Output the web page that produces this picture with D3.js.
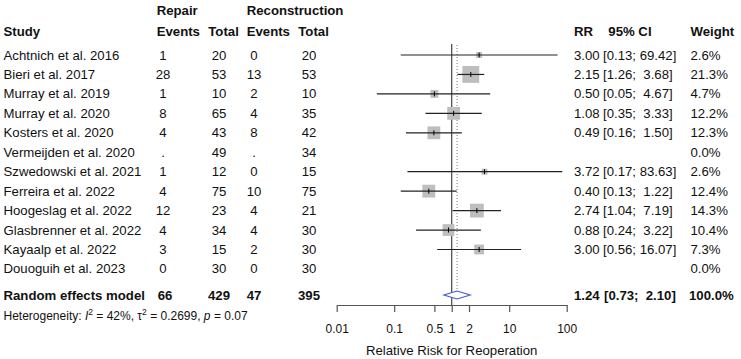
<!DOCTYPE html>
<html>
<head>
<meta charset="utf-8">
<script src="https://cdn.jsdelivr.net/npm/d3@7"></script>
<style>
  body { margin: 0; background: #fff; }
  svg { font-family: "Liberation Sans", Arial, sans-serif; }
  text { white-space: pre; }
</style>
</head>
<body>
<svg id="chart" width="741" height="359"></svg>
<script>
// forest plot: repair vs reconstruction, relative risk for reoperation

const studies = ["Achtnich et al. 2016", "Bieri et al. 2017", "Murray et al. 2019", "Murray et al. 2020",
  "Kosters et al. 2020", "Vermeijden et al. 2020", "Szwedowski et al. 2021", "Ferreira et al. 2022",
  "Hoogeslag et al. 2022", "Glasbrenner et al. 2022", "Kayaalp et al. 2022", "Douoguih et al. 2023"];
const repairEvents = ["1", "28", "1", "8", "4", ".", "1", "4", "12", "4", "3", "0"];
const repairTotal = [20, 53, 10, 65, 43, 49, 12, 75, 23, 34, 15, 30];
const reconEvents = ["0", "13", "2", "4", "8", ".", "0", "10", "4", "4", "2", "0"];
const reconTotal = [20, 53, 10, 35, 42, 34, 15, 75, 21, 30, 30, 30];
const rr = [3.00, 2.15, 0.50, 1.08, 0.49, null, 3.72, 0.40, 2.74, 0.88, 3.00, null];
const ciLow = [0.13, 1.26, 0.05, 0.35, 0.16, null, 0.17, 0.13, 1.04, 0.24, 0.56, null];
const ciHigh = [69.42, 3.68, 4.67, 3.33, 1.50, null, 83.63, 1.22, 7.19, 3.22, 16.07, null];
const weight = [2.6, 21.3, 4.7, 12.2, 12.3, 0.0, 2.6, 12.4, 14.3, 10.4, 7.3, 0.0];

// pooled result
const pooled = { label: "Random effects model", repEv: 66, repTot: 429, recEv: 47, recTot: 395,
  rr: 1.24, lo: 0.73, hi: 2.10, w: 100.0 };
const axisTicks = [0.01, 0.1, 0.5, 1, 2, 10, 100];

const fs = 13.2;
const rowY = i => 55 + 19.45 * i;
const pooledY = 295.5;

const cols = {
  study: 3.5,
  repEv: 163,
  repTot: 219,
  recEv: 254,
  recTot: 309,
  rr: 574,
  ci: 603,
  w: 690.5
};

const svg = d3.select("#chart");

const x = d3.scaleLog().domain([0.01, 100]).range([336.7, 566.7]);

function txt(xp, yp, s, opts = {}) {
  return svg.append("text")
    .attr("x", xp)
    .attr("y", yp)
    .attr("font-size", opts.size || fs)
    .attr("font-weight", opts.bold ? "bold" : null)
    .attr("text-anchor", opts.anchor || "start")
    .attr("fill", "#111")
    .text(s);
}

// headers
txt(cols.study, 36, "Study", { bold: true });
txt(156.7, 15, "Repair", { bold: true });
txt(156.7, 36, "Events", { bold: true });
txt(208.3, 36, "Total", { bold: true });
txt(246.7, 15, "Reconstruction", { bold: true });
txt(246.7, 36, "Events", { bold: true });
txt(298.3, 36, "Total", { bold: true });
txt(cols.rr, 36, "RR", { bold: true });
txt(608.3, 36, "95% CI", { bold: true });
txt(cols.w, 36, "Weight", { bold: true });

const fmtCI = (lo, hi) => `[${lo.toFixed(2)}; ${hi.toFixed(2).padStart(5, " ")}]`;

// study rows
studies.forEach((s, i) => {
  const yb = rowY(i) + 4.5;
  txt(cols.study, yb, s);
  txt(cols.repEv, yb, repairEvents[i], { anchor: "middle" });
  txt(cols.repTot, yb, repairTotal[i], { anchor: "middle" });
  txt(cols.recEv, yb, reconEvents[i], { anchor: "middle" });
  txt(cols.recTot, yb, reconTotal[i], { anchor: "middle" });
  if (rr[i] !== null) {
    txt(cols.rr, yb, rr[i].toFixed(2));
    txt(cols.ci, yb, fmtCI(ciLow[i], ciHigh[i]));
  }
  txt(cols.w, yb, weight[i].toFixed(1) + "%");
});

// pooled row text
{
  const yb = pooledY + 4.5;
  txt(cols.study, yb, pooled.label, { bold: true });
  txt(cols.repEv + 2, yb, pooled.repEv, { bold: true, anchor: "middle" });
  txt(cols.repTot, yb, pooled.repTot, { bold: true, anchor: "middle" });
  txt(cols.recEv, yb, pooled.recEv, { bold: true, anchor: "middle" });
  txt(cols.recTot, yb, pooled.recTot, { bold: true, anchor: "middle" });
  txt(cols.rr, yb, pooled.rr.toFixed(2), { bold: true });
  txt(cols.ci + 1, yb, fmtCI(pooled.lo, pooled.hi), { bold: true });
  txt(cols.w - 1.5, yb, pooled.w.toFixed(1) + "%", { bold: true });
}

// heterogeneity line
const het = svg.append("text")
  .attr("x", cols.study)
  .attr("y", 319.5)
  .attr("font-size", 12)
  .attr("fill", "#111");
het.append("tspan").text("Heterogeneity: ");
het.append("tspan").attr("font-style", "italic").text("I");
het.append("tspan").attr("font-size", 8.5).attr("dy", -5).text("2");
het.append("tspan").attr("dy", 5).text(" = 42%, τ");
het.append("tspan").attr("font-size", 8.5).attr("dy", -5).text("2");
het.append("tspan").attr("dy", 5).text(" = 0.2699, ");
het.append("tspan").attr("font-style", "italic").text("p");
het.append("tspan").text(" = 0.07");

// reference lines
svg.append("line")
  .attr("x1", x(1)).attr("x2", x(1))
  .attr("y1", 44).attr("y2", 305)
  .attr("stroke", "#444")
  .attr("stroke-width", 1.2);

svg.append("line")
  .attr("x1", x(pooled.rr)).attr("x2", x(pooled.rr))
  .attr("y1", 45).attr("y2", 291)
  .attr("stroke", "#777")
  .attr("stroke-width", 1)
  .attr("stroke-dasharray", "1,2");

// squares, CI lines and estimate ticks
const idx = d3.range(studies.length).filter(i => rr[i] !== null);

svg.selectAll(".sq")
  .data(idx)
  .enter()
  .append("rect")
  .attr("class", "sq")
  .attr("x", i => x(rr[i]) - 1.825 * Math.sqrt(weight[i]))
  .attr("y", i => rowY(i) - 1.825 * Math.sqrt(weight[i]))
  .attr("width", i => 3.65 * Math.sqrt(weight[i]))
  .attr("height", i => 3.65 * Math.sqrt(weight[i]))
  .attr("fill", "#bebebe");

svg.selectAll(".ci")
  .data(idx)
  .enter()
  .append("line")
  .attr("class", "ci")
  .attr("x1", i => x(ciLow[i]))
  .attr("x2", i => x(ciHigh[i]))
  .attr("y1", i => rowY(i))
  .attr("y2", i => rowY(i))
  .attr("stroke", "#222")
  .attr("stroke-width", 1.2);

svg.selectAll(".est")
  .data(idx)
  .enter()
  .append("line")
  .attr("class", "est")
  .attr("x1", i => x(rr[i]))
  .attr("x2", i => x(rr[i]))
  .attr("y1", i => rowY(i) - 2.5)
  .attr("y2", i => rowY(i) + 2.5)
  .attr("stroke", "#000")
  .attr("stroke-width", 1);

// pooled diamond
svg.append("path")
  .attr("d", `M${x(pooled.lo)},${pooledY - 0.5} L${x(pooled.rr)},${pooledY - 4.5} L${x(pooled.hi)},${pooledY - 0.5} L${x(pooled.rr)},${pooledY + 3.5} Z`)
  .attr("fill", "#fff")
  .attr("stroke", "#4457c9")
  .attr("stroke-width", 1.1);

// x axis
const gx = svg.append("g")
  .attr("transform", "translate(0,305)")
  .call(d3.axisBottom(x)
    .tickValues(axisTicks)
    .tickFormat(d => String(d))
    .tickSize(7)
    .tickSizeOuter(0)
    .tickPadding(12));

gx.select(".domain").attr("stroke", "#555").attr("stroke-width", 1.2);
gx.selectAll(".tick line").attr("stroke", "#555").attr("stroke-width", 1.2);
gx.selectAll(".tick text")
  .attr("font-size", 12)
  .attr("font-family", "Liberation Sans, Arial, sans-serif")
  .attr("fill", "#111");

svg.append("text")
  .attr("x", x(1))
  .attr("y", 354.5)
  .attr("text-anchor", "middle")
  .attr("font-size", fs)
  .attr("fill", "#111")
  .text("Relative Risk for Reoperation");
</script>
</body>
</html>
